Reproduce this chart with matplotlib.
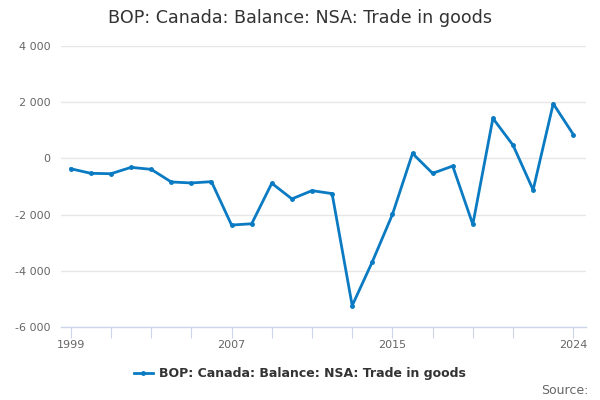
import matplotlib
matplotlib.use("Agg")
import matplotlib.pyplot as plt
from matplotlib.lines import Line2D
from matplotlib.ticker import FuncFormatter

years = list(range(1999, 2025))
values = [-368, -531, -545, -319, -389, -839, -874, -828, -2372, -2326,
          -885, -1441, -1147, -1253, -5239, -3681, -1996, 177, -531, -272,
          -2350, 1426, 471, -1122, 1947, 850]
title = "BOP: Canada: Balance: NSA: Trade in goods"
series_name = "BOP: Canada: Balance: NSA: Trade in goods"
y_ticks = [-6000, -4000, -2000, 0, 2000, 4000]
x_tick_marks = [1999, 2001, 2003, 2005, 2007, 2009, 2011, 2013, 2015, 2017, 2019, 2021, 2024]
x_tick_labels = [1999, 2007, 2015, 2024]

color = "#0a7bc2"
plt.rcParams['font.family'] = ['DejaVu Sans']

fig = plt.figure(figsize=(6, 4), dpi=100)
ax = fig.add_axes([61.5/600, 1-327/400, (586-61.5)/600, (327-46)/400])

ax.plot(years, values, color=color, lw=2, marker='o', ms=2.5, zorder=3, clip_on=False)
ax.set_xlim(1998.54, 2024.63)
ax.set_ylim(-6000, 4000)
ax.set_yticks(y_ticks)
ax.yaxis.set_major_formatter(FuncFormatter(lambda v, p: f"{int(v):,}".replace(",", " ")))
ax.grid(axis='y', color='#e6e6e6', lw=1)
ax.set_axisbelow(True)
for s in ['top', 'right', 'left']:
    ax.spines[s].set_visible(False)
ax.spines['bottom'].set_color('#ccd6eb')
ax.spines['bottom'].set_linewidth(1)

ax.set_xticks(x_tick_marks)
ax.set_xticklabels([str(y) if y in x_tick_labels else "" for y in x_tick_marks])
ax.tick_params(axis='x', length=8, color='#ccd6eb', labelsize=8, labelcolor='#666666', pad=1)
ax.tick_params(axis='y', length=0, labelsize=8, labelcolor='#666666', pad=8)

fig.text(0.5, 1-18/400, title, ha='center', va='center', fontsize=12.6, color='#333333')

handle = Line2D([0], [0], color=color, lw=2, marker='o', ms=2.5)
fig.legend([handle], [series_name], loc='center', bbox_to_anchor=(0.5, 1-374/400),
           frameon=False, handlelength=1.5, handletextpad=0.5,
           prop={'weight': 'bold', 'size': 9})
for t in fig.legends[0].get_texts():
    t.set_color('#333333')

fig.text(589/600, 1-390/400, "Source:", ha='right', va='center', fontsize=9, color='#666666')

fig.savefig("out.png", dpi=100)
